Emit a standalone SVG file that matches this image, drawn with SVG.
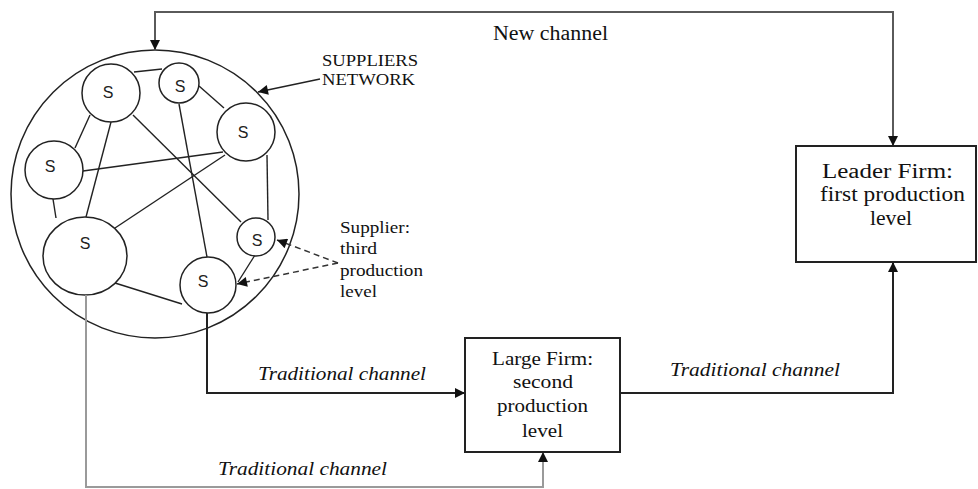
<svg xmlns="http://www.w3.org/2000/svg" width="978" height="489" viewBox="0 0 978 489">
  <style>
    .node { fill: #fff; stroke: #222; stroke-width: 1.5; }
    .box { fill: #fff; stroke: #222; stroke-width: 2; }
    .link { stroke: #222; stroke-width: 1.4; fill: none; }
    .conn { stroke: #222; stroke-width: 2; fill: none; }
    .gray { stroke: #9a9a9a; stroke-width: 2; fill: none; }
    .dark { stroke: #5a5a5a; stroke-width: 2; fill: none; }
    .dash { stroke: #333; stroke-width: 1.5; fill: none; stroke-dasharray: 6 4; }
    .s { font-family: "Liberation Sans", Arial, sans-serif; font-size: 16px; fill: #222; text-anchor: middle; }
    .t { font-family: "Liberation Serif", "Times New Roman", serif; fill: #111; }
    .it { font-family: "Liberation Serif", "Times New Roman", serif; font-style: italic; font-size: 18px; fill: #111; }
    .c { text-anchor: middle; }
  </style>
  <defs>
    <marker id="arr" viewBox="0 0 10 10" refX="10" refY="5" markerWidth="11" markerHeight="10" markerUnits="userSpaceOnUse" orient="auto-start-reverse">
      <path d="M0,0 L10,5 L0,10 z" fill="#111"/>
    </marker>
  </defs>

  <g id="network">
    <circle cx="155" cy="194" r="144" class="node"/>
  </g>

  <g id="links">
    <line x1="134" y1="72" x2="162" y2="69" class="link"/>
    <line x1="199" y1="86" x2="224" y2="108" class="link"/>
    <line x1="90" y1="115" x2="75" y2="148" class="link"/>
    <line x1="111" y1="122" x2="86" y2="217" class="link"/>
    <line x1="133" y1="115" x2="241" y2="222" class="link"/>
    <line x1="179" y1="104" x2="207" y2="257" class="link"/>
    <line x1="223" y1="152" x2="83" y2="171" class="link"/>
    <line x1="225" y1="155" x2="115" y2="228" class="link"/>
    <line x1="267" y1="155" x2="268" y2="220" class="link"/>
    <line x1="53" y1="199" x2="56" y2="218" class="link"/>
    <line x1="115" y1="283" x2="182" y2="304" class="link"/>
    <line x1="255" y1="255" x2="238" y2="282" class="link"/>
  </g>

  <g id="s1"><circle cx="111" cy="93" r="29" class="node"/><text x="108" y="98" class="s">S</text></g>
  <g id="s2"><circle cx="179" cy="83" r="20" class="node"/><text x="180" y="92" class="s">S</text></g>
  <g id="s3"><circle cx="246" cy="132" r="29" class="node"/><text x="243" y="138" class="s">S</text></g>
  <g id="s4"><circle cx="54" cy="170" r="29" class="node"/><text x="50" y="172" class="s">S</text></g>
  <g id="s5"><ellipse cx="85" cy="256" rx="42" ry="39" class="node"/><text x="85" y="249" class="s">S</text></g>
  <g id="s6"><circle cx="256" cy="237" r="19" class="node"/><text x="257" y="246" class="s">S</text></g>
  <g id="s7"><circle cx="208" cy="285" r="28" class="node"/><text x="203" y="287" class="s">S</text></g>

  <g id="connectors">
    <path d="M893,146 V12 H155 V50" class="dark" marker-start="url(#arr)" marker-end="url(#arr)"/>
    <path d="M207,313 V393 H465" class="conn" marker-end="url(#arr)"/>
    <path d="M620,393 H893 V262" class="conn" marker-end="url(#arr)"/>
    <path d="M86,295 V487 H543 V452" class="gray" marker-end="url(#arr)"/>
    <line x1="320" y1="79" x2="258" y2="92" class="link" marker-end="url(#arr)"/>
    <line x1="338" y1="263" x2="277" y2="240" class="dash" marker-end="url(#arr)"/>
    <line x1="338" y1="263" x2="237" y2="284" class="dash" marker-end="url(#arr)"/>
  </g>

  <g id="suppliers-label">
    <text x="322" y="66" class="t" font-size="16" textLength="96" lengthAdjust="spacingAndGlyphs">SUPPLIERS</text>
    <text x="322" y="85" class="t" font-size="16" textLength="93" lengthAdjust="spacingAndGlyphs">NETWORK</text>
  </g>

  <g id="supplier-label">
    <text x="340" y="233" class="t" font-size="17" textLength="70" lengthAdjust="spacingAndGlyphs">Supplier:</text>
    <text x="340" y="254" class="t" font-size="17" textLength="37" lengthAdjust="spacingAndGlyphs">third</text>
    <text x="340" y="276" class="t" font-size="17" textLength="83" lengthAdjust="spacingAndGlyphs">production</text>
    <text x="340" y="297" class="t" font-size="17" textLength="37" lengthAdjust="spacingAndGlyphs">level</text>
  </g>

  <g id="leader-firm">
    <rect x="796" y="146" width="180" height="116" class="box"/>
    <text x="887.5" y="178" class="t c" font-size="20" textLength="131" lengthAdjust="spacingAndGlyphs">Leader Firm:</text>
    <text x="892.5" y="201" class="t c" font-size="20" textLength="145" lengthAdjust="spacingAndGlyphs">first production</text>
    <text x="891" y="225" class="t c" font-size="20" textLength="42" lengthAdjust="spacingAndGlyphs">level</text>
  </g>

  <g id="large-firm">
    <rect x="465" y="338" width="155" height="114" class="box"/>
    <text x="542.5" y="365" class="t c" font-size="18" textLength="101" lengthAdjust="spacingAndGlyphs">Large Firm:</text>
    <text x="543" y="388" class="t c" font-size="18" textLength="60" lengthAdjust="spacingAndGlyphs">second</text>
    <text x="542.5" y="412" class="t c" font-size="18" textLength="91" lengthAdjust="spacingAndGlyphs">production</text>
    <text x="542.5" y="437" class="t c" font-size="18" textLength="41" lengthAdjust="spacingAndGlyphs">level</text>
  </g>

  <g id="labels">
    <text x="493" y="40" class="t" font-size="20" textLength="115" lengthAdjust="spacingAndGlyphs">New channel</text>
    <text x="258" y="380" class="it" textLength="168" lengthAdjust="spacingAndGlyphs">Traditional channel</text>
    <text x="670" y="376" class="it" textLength="170" lengthAdjust="spacingAndGlyphs">Traditional channel</text>
    <text x="218" y="475" class="it" textLength="169" lengthAdjust="spacingAndGlyphs">Traditional channel</text>
  </g>
</svg>
